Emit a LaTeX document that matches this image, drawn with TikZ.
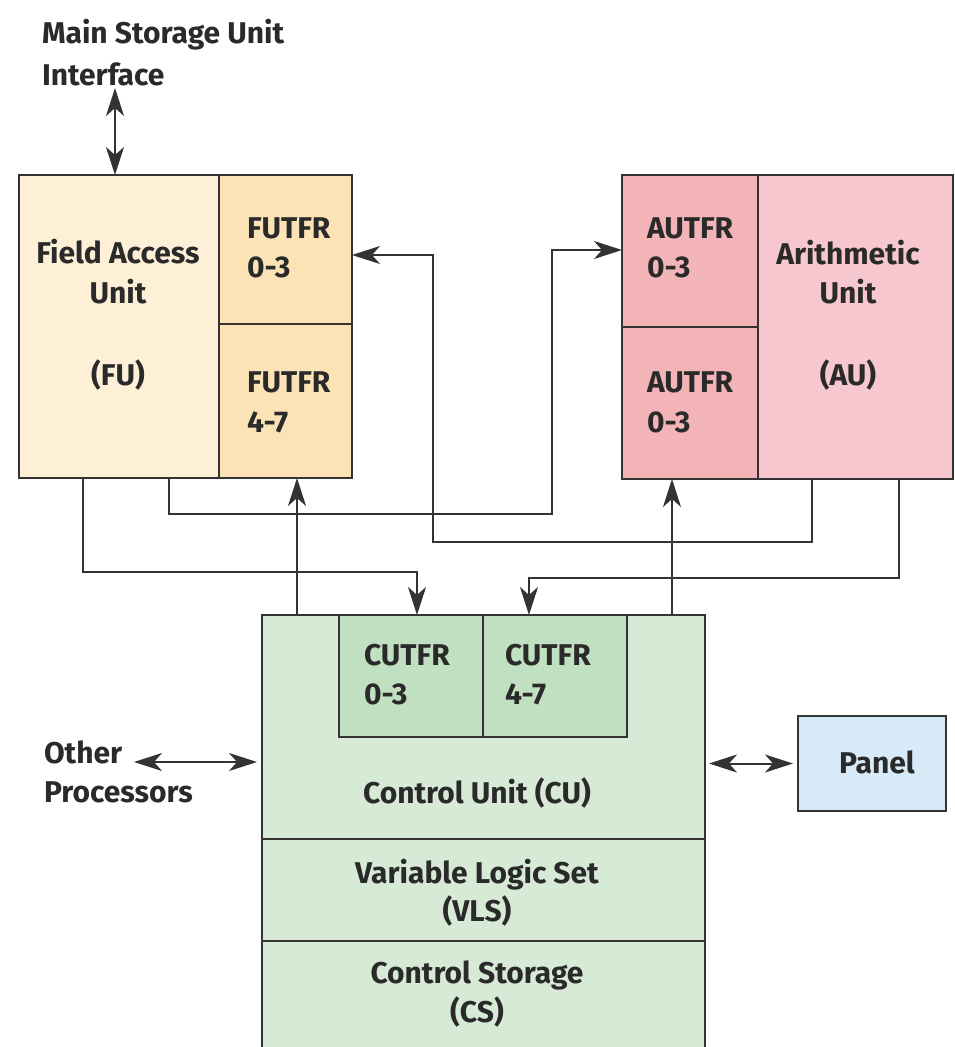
\documentclass[tikz,border=0pt]{standalone}
\usepackage{fontspec}
\setmainfont{Fira Sans}
\usetikzlibrary{arrows.meta}
\definecolor{ln}{HTML}{333333}
\definecolor{tx}{HTML}{2A2A2A}
\definecolor{fuA}{HTML}{FDF0D6}
\definecolor{fuB}{HTML}{FCE3B6}
\definecolor{auA}{HTML}{F2B4B6}
\definecolor{auB}{HTML}{F6C7CE}
\definecolor{cuA}{HTML}{D6EAD6}
\definecolor{cuB}{HTML}{C1E0C1}
\definecolor{pnl}{HTML}{D6EAF7}
\tikzset{
  blk/.style={draw=ln, line width=2pt, rectangle, inner sep=0pt, outer sep=0pt, anchor=north west},
  txt/.style={inner sep=0pt, outer sep=0pt, text=tx, font=\bfseries\fontsize{30}{38}\selectfont},
  conn/.style={draw=ln, line width=2pt},
  arr/.style={conn, -{Stealth[length=28pt,width=18pt,inset=8pt]}},
  darr/.style={conn, {Stealth[length=28pt,width=18pt,inset=8pt]}-{Stealth[length=28pt,width=18pt,inset=8pt]}}
}
\begin{document}
\begin{tikzpicture}[x=1pt,y=-1pt]
\useasboundingbox (0,0) rectangle (955,1047);
% boxes
\node[blk, fill=fuA, minimum width=200pt, minimum height=303pt] (fuL) at (19,175) {};
\node[blk, fill=fuB, minimum width=133pt, minimum height=149pt] (fu1) at (219,175) {};
\node[blk, fill=fuB, minimum width=133pt, minimum height=154pt] (fu2) at (219,324) {};
\node[blk, fill=auA, minimum width=136pt, minimum height=152pt] (au1) at (622,175) {};
\node[blk, fill=auA, minimum width=136pt, minimum height=152pt] (au2) at (622,327) {};
\node[blk, fill=auB, minimum width=195pt, minimum height=304pt] (auR) at (758,175) {};
\node[blk, fill=cuA, minimum width=443pt, minimum height=224pt] (cu) at (262,615) {};
\node[blk, fill=cuB, minimum width=144pt, minimum height=122pt] (ct1) at (339,615) {};
\node[blk, fill=cuB, minimum width=144pt, minimum height=122pt] (ct2) at (483,615) {};
\node[blk, fill=cuA, minimum width=443pt, minimum height=102pt] (vls) at (262,839) {};
\node[blk, fill=cuA, minimum width=443pt, minimum height=130pt] (cs) at (262,941) {};
\node[blk, fill=pnl, minimum width=148pt, minimum height=95pt] (panel) at (798,716) {};
% texts
\node[txt, anchor=base west] (msu1) at (42,43) {Main Storage Unit};
\node[txt, anchor=base west] (msu2) at (42,85) {Interface};
\node[txt, anchor=base] (fut1) at (118,263) {Field Access};
\node[txt, anchor=base] (fut2) at (118,303) {Unit};
\node[txt, anchor=base] (fut3) at (118,385) {(FU)};
\node[txt, anchor=base west] (f1a) at (247,238) {FUTFR};
\node[txt, anchor=base west] (f1b) at (247,277) {0-3};
\node[txt, anchor=base west] (f2a) at (247,392) {FUTFR};
\node[txt, anchor=base west] (f2b) at (247,432) {4-7};
\node[txt, anchor=base west] (a1a) at (647,238) {AUTFR};
\node[txt, anchor=base west] (a1b) at (647,277) {0-3};
\node[txt, anchor=base west] (a2a) at (647,392) {AUTFR};
\node[txt, anchor=base west] (a2b) at (647,432) {0-3};
\node[txt, anchor=base] (aut1) at (848,264) {Arithmetic};
\node[txt, anchor=base] (aut2) at (848,303) {Unit};
\node[txt, anchor=base] (aut3) at (848,385) {(AU)};
\node[txt, anchor=base west] (c1a) at (364,665) {CUTFR};
\node[txt, anchor=base west] (c1b) at (364,704) {0-3};
\node[txt, anchor=base west] (c2a) at (505,665) {CUTFR};
\node[txt, anchor=base west] (c2b) at (505,704) {4-7};
\node[txt, anchor=base] (cut) at (477,803) {Control Unit (CU)};
\node[txt, anchor=base] (vt1) at (477,883) {Variable Logic Set};
\node[txt, anchor=base] (vt2) at (477,921) {(VLS)};
\node[txt, anchor=base] (cst1) at (477,983) {Control Storage};
\node[txt, anchor=base] (cst2) at (477,1022) {(CS)};
\node[txt, anchor=base west] (op1) at (44,763) {Other};
\node[txt, anchor=base west] (op2) at (44,802) {Processors};
\node[txt, anchor=base] (pt) at (877,773) {Panel};
% bend coordinates
\coordinate (m0) at (115,88);
\coordinate (b1) at (83,572);
\coordinate (e1) at (417,572);
\coordinate (b2) at (169,514);
\coordinate (e2) at (552,250);
\coordinate (x3) at (297,0);
\coordinate (b4) at (812,542);
\coordinate (e4) at (433,255);
\coordinate (x5) at (672,0);
\coordinate (b6) at (899,578);
\coordinate (e6) at (529,578);
\coordinate (op) at (134,762);
% connectors
\draw[darr] (m0) -- (m0 |- fuL.north);
\draw[arr] (b1 |- fuL.south) -- (b1) -- (e1) -- (e1 |- ct1.north);
\draw[arr] (b2 |- fuL.south) -- (b2) -| (e2) -- (e2 -| au1.west);
\draw[arr] (x3 |- cu.north) -- (x3 |- fu2.south);
\draw[arr] (b4 |- auR.south) -- (b4) -| (e4) -- (e4 -| fu1.east);
\draw[arr] (x5 |- cu.north) -- (x5 |- au2.south);
\draw[arr] (b6 |- auR.south) -- (b6) -- (e6) -- (e6 |- ct2.north);
\draw[darr] (op) -- ([xshift=-5pt]op -| cu.west);
\draw[darr, shorten <=4pt, shorten >=5pt] (panel.west -| cu.east) -- (panel.west);
\end{tikzpicture}
\end{document}
